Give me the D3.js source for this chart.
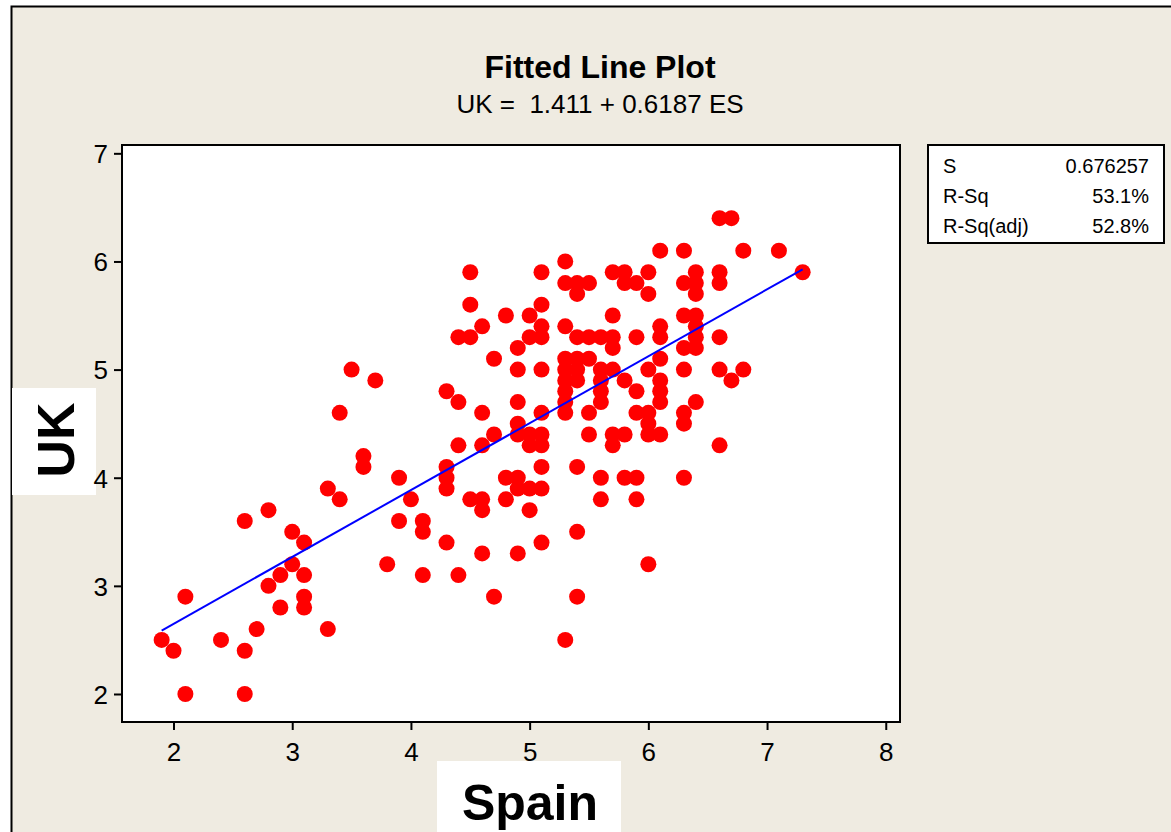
<!DOCTYPE html>
<html>
<head>
<meta charset="utf-8">
<script src="https://cdn.jsdelivr.net/npm/d3@7"></script>
<style>
  body { margin: 0; background: #ffffff; }
  text { font-family: "Liberation Sans", Arial, sans-serif; fill: #000; }
</style>
</head>
<body>
<div id="my_dataviz"></div>
<script>
// data (Spain vs UK)
var spain = [1.9, 2.0, 2.1, 2.1, 2.4, 2.6, 2.6, 2.6, 2.7, 2.8, 2.8, 2.9, 2.9, 3.0, 3.0, 3.1, 3.1, 3.1, 3.1, 3.3,
  3.3, 3.4, 3.4, 3.5, 3.7, 3.6, 3.6, 3.8, 3.9, 3.9, 4.0, 4.1, 4.1, 4.1,
  4.3, 4.3, 4.3, 4.3, 4.3, 4.4, 4.4, 4.4, 4.4, 4.5, 4.5, 4.5, 4.5, 4.6, 4.6, 4.6, 4.6, 4.6, 4.6,
  4.7, 4.7, 4.7, 4.8, 4.8, 4.8, 4.9, 4.9, 4.9, 4.9, 4.9, 4.9, 4.9, 4.9, 5.0, 5.0, 5.0, 5.0, 5.0, 5.0,
  5.1, 5.1, 5.1, 5.1, 5.1, 5.1, 5.1, 5.1, 5.1, 5.1, 5.1,
  5.3, 5.3, 5.3, 5.3, 5.3, 5.3, 5.3, 5.3, 5.3, 5.3, 5.4, 5.4, 5.4, 5.4, 5.4, 5.4, 5.4, 5.4, 5.4,
  5.5, 5.5, 5.5, 5.5, 5.5, 5.6, 5.6, 5.6, 5.6, 5.6, 5.6, 5.6, 5.7, 5.7, 5.7, 5.7, 5.7, 5.7, 5.7,
  5.8, 5.8, 5.8, 5.8, 5.8, 5.9, 5.9, 5.9, 5.9, 5.9, 5.9, 6.0, 6.0, 6.0, 6.0, 6.0, 6.0, 6.0,
  6.1, 6.1, 6.1, 6.1, 6.1, 6.1, 6.1, 6.1,
  6.3, 6.3, 6.3, 6.3, 6.3, 6.3, 6.3, 6.3, 6.4, 6.4, 6.4, 6.4, 6.4, 6.4, 6.4, 6.4,
  6.6, 6.7, 6.6, 6.6, 6.6, 6.6, 6.6, 6.7, 6.8, 6.8, 7.1, 7.3];

var uk = [2.5, 2.4, 2.0, 2.9, 2.5, 2.4, 2.0, 3.6, 2.6, 3.7, 3.0, 3.1, 2.8, 3.5, 3.2, 3.4, 3.1, 2.9, 2.8, 2.6,
  3.9, 3.8, 4.6, 5.0, 4.9, 4.2, 4.1, 3.2, 4.0, 3.6, 3.8, 3.6, 3.5, 3.1,
  4.8, 4.1, 4.0, 3.9, 3.4, 4.7, 5.3, 4.3, 3.1, 5.9, 5.6, 5.3, 3.8, 5.4, 4.6, 4.3, 3.8, 3.7, 3.3,
  5.1, 4.4, 2.9, 5.5, 4.0, 3.8, 5.2, 5.0, 4.7, 4.5, 4.4, 4.0, 3.9, 3.3, 5.5, 5.3, 4.4, 4.3, 3.9, 3.7,
  5.9, 5.6, 5.4, 5.3, 5.0, 4.6, 4.4, 4.3, 4.1, 3.9, 3.4,
  6.0, 5.8, 5.4, 5.1, 5.0, 4.9, 4.8, 4.7, 4.6, 2.5, 5.8, 5.7, 5.3, 5.1, 5.0, 4.9, 4.1, 3.5, 2.9,
  5.8, 5.3, 5.1, 4.6, 4.4, 5.3, 5.0, 4.9, 4.8, 4.7, 4.0, 3.8, 5.9, 5.5, 5.3, 5.2, 5.0, 4.4, 4.3,
  5.9, 5.8, 4.9, 4.4, 4.0, 5.8, 5.3, 4.8, 4.6, 4.0, 3.8, 5.9, 5.7, 5.0, 4.6, 4.5, 4.4, 3.2,
  6.1, 5.4, 5.3, 5.1, 4.9, 4.8, 4.7, 4.4,
  6.1, 5.8, 5.5, 5.2, 5.0, 4.6, 4.5, 4.0, 5.9, 5.8, 5.7, 5.5, 5.4, 5.3, 5.2, 4.7,
  6.4, 6.4, 5.9, 5.8, 5.3, 5.0, 4.3, 4.9, 6.1, 5.0, 6.1, 5.9];

var xTicks = [2, 3, 4, 5, 6, 7, 8];
var yTicks = [2, 3, 4, 5, 6, 7];

// fitted line  UK = 1.411 + 0.6187 ES
var intercept = 1.411;
var slope = 0.6187;

var statLabels = ["S", "R-Sq", "R-Sq(adj)"];
var statValues = ["0.676257", "53.1%", "52.8%"];

var W = 1171, H = 832;
var plot = { left: 122, top: 145, right: 900, bottom: 722 };

var svg = d3.select("#my_dataviz")
  .append("svg")
  .attr("width", W)
  .attr("height", H);

// beige frame
svg.append("rect")
  .attr("x", 11.5).attr("y", 6.5)
  .attr("width", W + 20).attr("height", H + 20)
  .attr("fill", "#EFEBE1")
  .attr("stroke", "#000")
  .attr("stroke-width", 2);

// titles
svg.append("text")
  .attr("x", 600).attr("y", 78)
  .attr("text-anchor", "middle")
  .style("font-size", "32px")
  .style("font-weight", "bold")
  .text("Fitted Line Plot");

svg.append("text")
  .attr("x", 600).attr("y", 113)
  .attr("text-anchor", "middle")
  .style("font-size", "26px")
  .style("white-space", "pre")
  .text("UK =  1.411 + 0.6187 ES");

// axis titles in white boxes (drawn first so tick labels sit on top)
svg.append("rect")
  .attr("x", 12).attr("y", 388)
  .attr("width", 84).attr("height", 107)
  .attr("fill", "#ffffff");
svg.append("text")
  .attr("transform", "translate(74,440) rotate(-90)")
  .attr("text-anchor", "middle")
  .style("font-size", "52px")
  .style("font-weight", "bold")
  .text("UK");

svg.append("rect")
  .attr("x", 437).attr("y", 761)
  .attr("width", 184).attr("height", 80)
  .attr("fill", "#ffffff");
svg.append("text")
  .attr("x", 530).attr("y", 820)
  .attr("text-anchor", "middle")
  .style("font-size", "50px")
  .style("font-weight", "bold")
  .text("Spain");

// scales
var x = d3.scaleLinear().domain([1.566, 8.12]).range([plot.left, plot.right]);
var y = d3.scaleLinear().domain([1.741, 7.077]).range([plot.bottom, plot.top]);

// plot area
svg.append("rect")
  .attr("x", plot.left).attr("y", plot.top)
  .attr("width", plot.right - plot.left)
  .attr("height", plot.bottom - plot.top)
  .attr("fill", "#ffffff");

// axes
var xAxis = svg.append("g")
  .attr("transform", "translate(0," + plot.bottom + ")")
  .call(d3.axisBottom(x).tickValues(xTicks).tickFormat(d3.format("d"))
    .tickSize(8).tickSizeOuter(0).tickPadding(6));

var yAxis = svg.append("g")
  .attr("transform", "translate(" + plot.left + ",0)")
  .call(d3.axisLeft(y).tickValues(yTicks).tickFormat(d3.format("d"))
    .tickSize(8).tickSizeOuter(0).tickPadding(6));

[xAxis, yAxis].forEach(function (g) {
  g.select(".domain").remove();
  g.selectAll("line").attr("stroke", "#000").attr("stroke-width", 2);
  g.selectAll("text")
    .style("font-family", "'Liberation Sans', Arial, sans-serif")
    .style("font-size", "26px")
    .attr("fill", "#000");
});
xAxis.selectAll("text").attr("dy", "0.95em");
yAxis.selectAll("text").attr("dy", "0.36em");

// points
svg.append("g")
  .selectAll("circle")
  .data(spain.map(function (d, i) { return [d, uk[i]]; }))
  .enter()
  .append("circle")
  .attr("cx", function (d) { return x(d[0]); })
  .attr("cy", function (d) { return y(d[1]); })
  .attr("r", 8)
  .style("fill", "#FF0000");

// regression line
var xMin = d3.min(spain), xMax = d3.max(spain);
svg.append("path")
  .datum([xMin, xMax])
  .attr("d", d3.line()
    .x(function (d) { return x(d); })
    .y(function (d) { return y(intercept + slope * d); }))
  .attr("fill", "none")
  .attr("stroke", "#0000FF")
  .attr("stroke-width", 2);

// plot border on top
svg.append("rect")
  .attr("x", plot.left).attr("y", plot.top)
  .attr("width", plot.right - plot.left)
  .attr("height", plot.bottom - plot.top)
  .attr("fill", "none")
  .attr("stroke", "#000")
  .attr("stroke-width", 2);

// stats box
var box = svg.append("g");
box.append("rect")
  .attr("x", 928).attr("y", 145)
  .attr("width", 236).attr("height", 98)
  .attr("fill", "#ffffff")
  .attr("stroke", "#000")
  .attr("stroke-width", 2);

box.selectAll(".lab")
  .data(statLabels)
  .enter()
  .append("text")
  .attr("x", 943)
  .attr("y", function (d, i) { return 173 + i * 30; })
  .style("font-size", "20px")
  .text(function (d) { return d; });

box.selectAll(".val")
  .data(statValues)
  .enter()
  .append("text")
  .attr("x", 1149)
  .attr("y", function (d, i) { return 173 + i * 30; })
  .attr("text-anchor", "end")
  .style("font-size", "20px")
  .text(function (d) { return d; });
</script>
</body>
</html>
